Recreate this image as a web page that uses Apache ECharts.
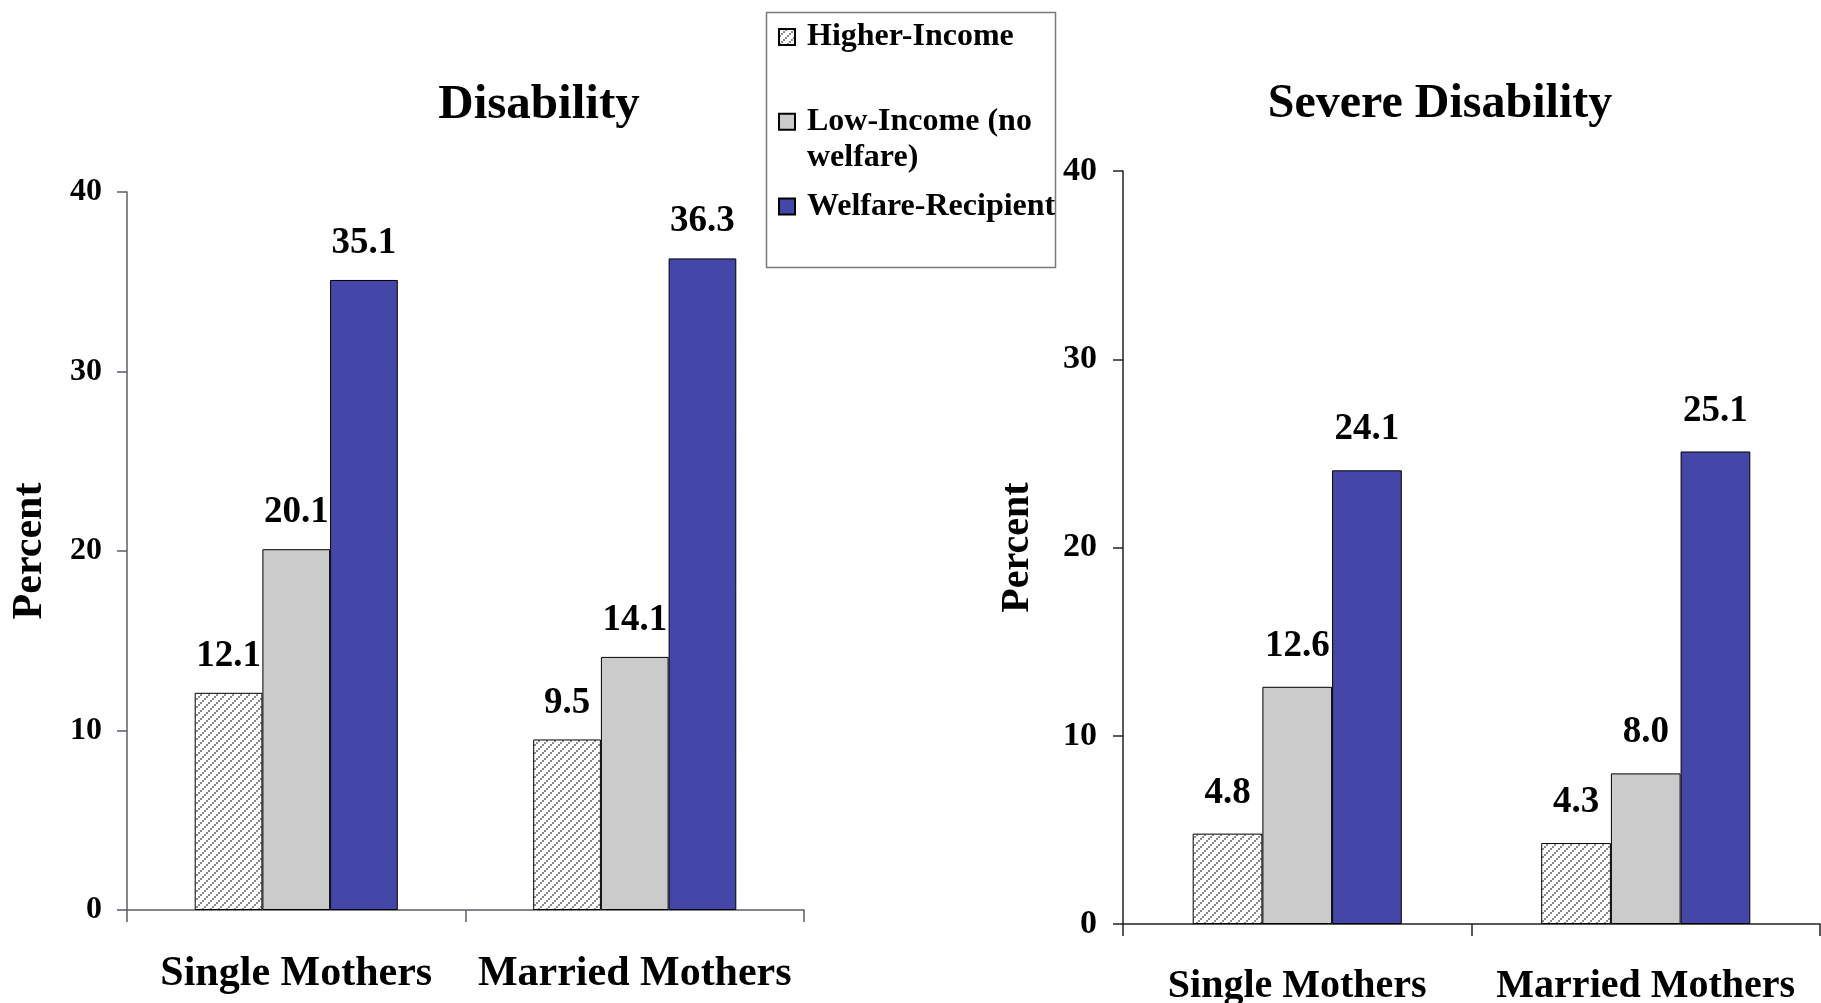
<!DOCTYPE html>
<html>
<head>
<meta charset="utf-8">
<title>Disability and Severe Disability by Mother Type</title>
<script src="https://cdn.jsdelivr.net/npm/echarts@6/dist/echarts.min.js"></script>
<style>
  html, body { margin: 0; padding: 0; background: #ffffff; }
  #chart { width: 1821px; height: 1003px; }
</style>
</head>
<body>
<div id="chart"></div>
<script>
// Categories, series names and values
const categories = ['Single Mothers', 'Married Mothers'];
const seriesNames = ['Higher-Income', 'Low-Income (no welfare)', 'Welfare-Recipient'];

const disabilityHigher = [12.1, 9.5];
const disabilityLow = [20.1, 14.1];
const disabilityWelfare = [35.1, 36.3];

const severeHigher = [4.8, 4.3];
const severeLow = [12.6, 8.0];
const severeWelfare = [24.1, 25.1];

const yTicks = [0, 10, 20, 30, 40];

// Hatch tile: dotted diagonal lines rising left-to-right on white
function makeHatch() {
  const c = document.createElement('canvas');
  c.width = 8; c.height = 8;
  const ctx = c.getContext('2d');
  ctx.fillStyle = '#ffffff';
  ctx.fillRect(0, 0, 8, 8);
  ctx.fillStyle = '#8c8c8c';
  ctx.fillRect(0, 6, 2, 2);
  ctx.fillRect(2, 4, 2, 2);
  ctx.fillRect(4, 2, 2, 2);
  ctx.fillRect(6, 0, 2, 2);
  return c;
}
const hatch = makeHatch();

const FONT = 'Liberation Serif';
const colors = {
  higher: { image: hatch, repeat: 'repeat' },
  low: '#cbcbcb',
  welfare: '#4447a8'
};

function fmt(p) { return Number(p.value).toFixed(1); }

function barSeries(name, data, color, axisIndex, labelDistance) {
  return {
    type: 'bar',
    name: name,
    data: data,
    xAxisIndex: axisIndex,
    yAxisIndex: axisIndex,
    barGap: '0%',
    barCategoryGap: '40%',
    itemStyle: { color: color, borderColor: '#000000', borderWidth: 1 },
    label: {
      show: true,
      position: 'top',
      distance: labelDistance,
      formatter: fmt,
      color: '#000000',
      fontFamily: FONT,
      fontWeight: 'bold',
      fontSize: 37
    },
    emphasis: { disabled: true },
    animation: false
  };
}

function yAxisFor(gridIndex, opts) {
  return {
    type: 'value',
    gridIndex: gridIndex,
    min: yTicks[0],
    max: yTicks[yTicks.length - 1],
    interval: yTicks[1] - yTicks[0],
    name: 'Percent',
    nameLocation: 'middle',
    nameGap: opts.nameGap,
    nameTextStyle: { fontFamily: FONT, fontWeight: 'bold', fontSize: opts.nameSize, color: '#000' },
    splitLine: { show: false },
    axisLine: { show: true, lineStyle: { color: opts.lineColor, width: 1.5 } },
    axisTick: { show: true, inside: false, length: 10, lineStyle: { color: opts.lineColor, width: 1.5 } },
    axisLabel: { margin: opts.labelMargin, fontFamily: FONT, fontWeight: 'bold', fontSize: opts.labelSize, color: '#000' }
  };
}

function xAxisFor(gridIndex, opts) {
  return {
    type: 'category',
    gridIndex: gridIndex,
    data: categories,
    axisLine: { show: true, lineStyle: { color: opts.lineColor, width: 1.5 } },
    axisTick: { show: true, length: 12, lineStyle: { color: opts.lineColor, width: 1.5 } },
    axisLabel: { interval: 0, margin: opts.labelMargin, fontFamily: FONT, fontWeight: 'bold', fontSize: opts.labelSize, color: '#000' }
  };
}

const chart = echarts.init(document.getElementById('chart'), null, { renderer: 'canvas' });

chart.setOption({
  backgroundColor: '#ffffff',
  animation: false,
  title: [
    { text: 'Disability', left: 534, top: 76, textAlign: 'center',
      textStyle: { fontFamily: FONT, fontWeight: 'bold', fontSize: 49, color: '#000' } },
    { text: 'Severe Disability', left: 1435, top: 76, textAlign: 'center',
      textStyle: { fontFamily: FONT, fontWeight: 'bold', fontSize: 48, color: '#000' } }
  ],
  legend: {
    orient: 'vertical',
    left: 778,
    top: 19,
    padding: 0,
    itemGap: 12.7,
    itemWidth: 16,
    itemHeight: 16,
    icon: 'rect',
    data: seriesNames,
    formatter: function (name) {
      return name === 'Low-Income (no welfare)' ? '\nLow-Income (no\nwelfare)' : name;
    },
    textStyle: { fontFamily: FONT, fontWeight: 'bold', fontSize: 32, lineHeight: 36, color: '#000', padding: [0, 0, 0, 7] }
  },
  graphic: [
    { type: 'rect', left: 764, top: 10, shape: { width: 289, height: 255 },
      style: { fill: 'none', stroke: '#7a7a7a', lineWidth: 1.5 }, silent: true, z: -1 }
  ],
  grid: [
    { left: 127, top: 192, width: 677, height: 718, containLabel: false, outerBoundsMode: 'none' },
    { left: 1123, top: 171, width: 697, height: 753, containLabel: false, outerBoundsMode: 'none' }
  ],
  xAxis: [
    xAxisFor(0, { lineColor: '#5c5c66', labelSize: 42, labelMargin: 43 }),
    xAxisFor(1, { lineColor: '#222222', labelSize: 40, labelMargin: 43 })
  ],
  yAxis: [
    yAxisFor(0, { lineColor: '#5c5c66', nameGap: 76, nameSize: 42, labelMargin: 25, labelSize: 32 }),
    yAxisFor(1, { lineColor: '#222222', nameGap: 85, nameSize: 40, labelMargin: 26, labelSize: 34 })
  ],
  series: [
    barSeries(seriesNames[0], disabilityHigher, colors.higher, 0, 18),
    barSeries(seriesNames[1], disabilityLow, colors.low, 0, 18),
    barSeries(seriesNames[2], disabilityWelfare, colors.welfare, 0, 18),
    barSeries(seriesNames[0], severeHigher, colors.higher, 1, 22),
    barSeries(seriesNames[1], severeLow, colors.low, 1, 22),
    barSeries(seriesNames[2], severeWelfare, colors.welfare, 1, 22)
  ]
});
</script>
</body>
</html>
